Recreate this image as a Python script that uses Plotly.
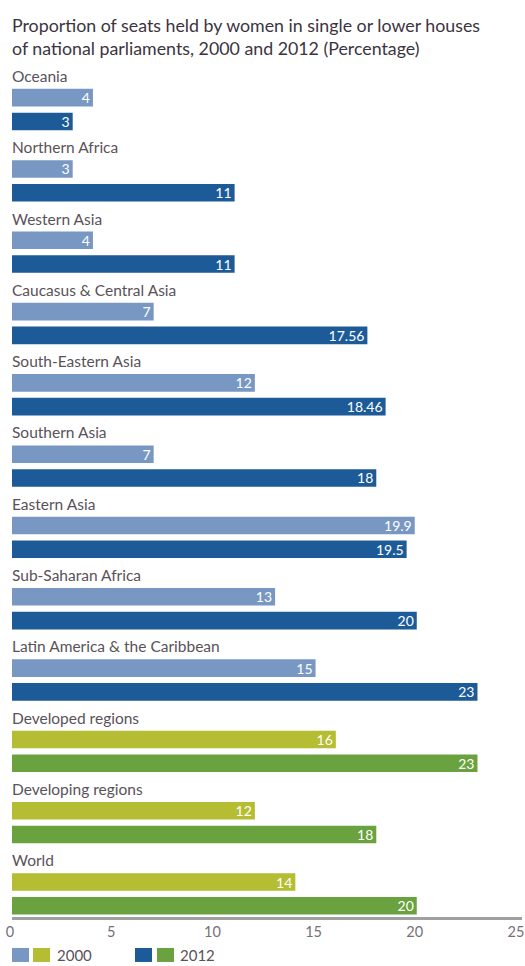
import plotly.graph_objects as go

regions = [
    "Oceania",
    "Northern Africa",
    "Western Asia",
    "Caucasus & Central Asia",
    "South-Eastern Asia",
    "Southern Asia",
    "Eastern Asia",
    "Sub-Saharan Africa",
    "Latin America & the Caribbean",
    "Developed regions",
    "Developing regions",
    "World",
]
share_2000 = [4, 3, 4, 7, 12, 7, 19.9, 13, 15, 16, 12, 14]
share_2012 = [3, 11, 11, 17.56, 18.46, 18, 19.5, 20, 23, 23, 18, 20]
labels_2000 = ["4", "3", "4", "7", "12", "7", "19.9", "13", "15", "16", "12", "14"]
labels_2012 = ["3", "11", "11", "17.56", "18.46", "18", "19.5", "20", "23", "23", "18", "20"]
is_aggregate = [False] * 9 + [True] * 3
x_ticks = [0, 5, 10, 15, 20, 25]

BLUE_LIGHT = "#7898c3"
BLUE_DARK = "#1d5b98"
OLIVE = "#b5bd32"
GREEN = "#6aa240"
TEXT = "#5a5259"
FONT = "Lato, 'Open Sans', sans-serif"

# each region takes three rows: label, 2000 bar, 2012 bar
row_label = [3 * i for i in range(len(regions))]
row_2000 = [3 * i + 1 for i in range(len(regions))]
row_2012 = [3 * i + 2 for i in range(len(regions))]

bar_font = dict(color="white", size=14, family=FONT)

fig = go.Figure()
fig.add_trace(go.Bar(
    x=share_2000, y=row_2000, orientation="h", width=0.74,
    marker=dict(color=[OLIVE if a else BLUE_LIGHT for a in is_aggregate], line=dict(width=0)),
    text=labels_2000, textposition="inside", insidetextanchor="end", textangle=0,
    constraintext="none", textfont=bar_font, showlegend=False,
))
fig.add_trace(go.Bar(
    x=share_2012, y=row_2012, orientation="h", width=0.74,
    marker=dict(color=[GREEN if a else BLUE_DARK for a in is_aggregate], line=dict(width=0)),
    text=labels_2012, textposition="inside", insidetextanchor="end", textangle=0,
    constraintext="none", textfont=bar_font, showlegend=False,
))

for name, r in zip(regions, row_label):
    fig.add_annotation(x=0, y=r, xref="x", yref="y", text=name, showarrow=False,
                       xanchor="left", yanchor="middle", xshift=-2, yshift=-2,
                       font=dict(size=15.5, color=TEXT, family=FONT))

# title as a paper annotation (two lines, left aligned)
fig.add_annotation(
    x=0, y=1.0585, xref="paper", yref="paper", xanchor="left", yanchor="top", align="left",
    text="Proportion of seats held by women in single or lower houses<br>of national parliaments, 2000 and 2012 (Percentage)",
    showarrow=False, xshift=-2, font=dict(size=17.8, color="#3b3440", family=FONT),
)

# legend: two swatches per year (regional / aggregate colours)
legend_y = -0.0444
def px(v):
    # page pixel -> paper x
    return (v - 12) / 510.0

sw_h = 14 / 855.0
for x0, col in [(12, BLUE_LIGHT), (33, OLIVE), (135, BLUE_DARK), (157, GREEN)]:
    fig.add_shape(type="rect", xref="paper", yref="paper",
                  x0=px(x0), x1=px(x0 + 17), y0=legend_y - sw_h / 2, y1=legend_y + sw_h / 2,
                  fillcolor=col, line=dict(width=0))
for x0, txt in [(55, "2000"), (178, "2012")]:
    fig.add_annotation(x=px(x0), y=legend_y, xref="paper", yref="paper", text=txt,
                       showarrow=False, xanchor="left", yanchor="middle",
                       font=dict(size=15, color=TEXT, family=FONT))

fig.update_layout(
    width=525, height=966,
    margin=dict(l=12, r=3, t=62, b=49),
    paper_bgcolor="white", plot_bgcolor="white",
    barmode="overlay",
    xaxis=dict(range=[0, 25.2], tickvals=x_ticks, showgrid=False, zeroline=False,
               showline=True, linecolor="#a0a0a0", linewidth=3, automargin=False,
               ticklabeloverflow="allow", ticklabelshift=-2,
               tickfont=dict(size=14.5, color="#75707a", family=FONT), ticks="", fixedrange=True),
    yaxis=dict(range=[35.47, -0.5], showgrid=False, zeroline=False, showticklabels=False,
               ticks="", fixedrange=True, automargin=False),
    font=dict(family=FONT),
)

# drop the default 8px body margin so the figure fills the window exactly
fig.write_html("out.html", config={"displayModeBar": False},
               post_script="document.body.style.margin='0';")
